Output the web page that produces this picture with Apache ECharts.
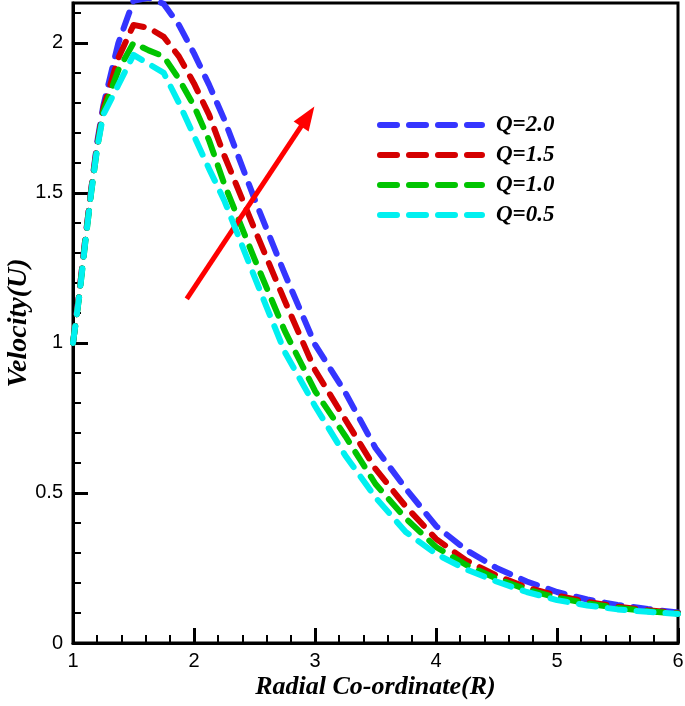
<!DOCTYPE html>
<html>
<head>
<meta charset="utf-8">
<script src="https://cdn.jsdelivr.net/npm/echarts@6/dist/echarts.min.js"></script>
<style>
html,body{margin:0;padding:0;background:#fff;}
#chart{width:685px;height:706px;}
</style>
</head>
<body>
<div id="chart"></div>
<script>
// Radial co-ordinate R
const radialR = [1.0, 1.05, 1.1, 1.15, 1.2, 1.25, 1.375, 1.5, 1.625, 1.75, 1.875, 2.0, 2.125, 2.25, 2.5, 2.75, 3.0, 3.25, 3.5, 3.75, 4.0, 4.25, 4.5, 4.75, 5.0, 5.25, 5.5, 5.75, 6.0];
// Velocity U for each Q
const velQ20 = [1.0, 1.16, 1.34, 1.51, 1.67, 1.79, 2.0, 2.14, 2.15, 2.13, 2.06, 1.965, 1.86, 1.745, 1.48, 1.23, 0.995, 0.835, 0.65, 0.515, 0.39, 0.31, 0.25, 0.205, 0.17, 0.145, 0.127, 0.113, 0.102];
const velQ15 = [1.0, 1.16, 1.34, 1.51, 1.66, 1.78, 1.95, 2.06, 2.05, 2.02, 1.955, 1.865, 1.76, 1.625, 1.38, 1.14, 0.91, 0.745, 0.58, 0.455, 0.347, 0.275, 0.225, 0.185, 0.158, 0.137, 0.121, 0.109, 0.1];
const velQ10 = [1.0, 1.15, 1.33, 1.5, 1.65, 1.77, 1.91, 2.0, 1.975, 1.955, 1.88, 1.79, 1.675, 1.53, 1.28, 1.04, 0.84, 0.69, 0.53, 0.415, 0.32, 0.26, 0.215, 0.178, 0.151, 0.132, 0.117, 0.106, 0.098];
const velQ05 = [1.0, 1.15, 1.33, 1.5, 1.65, 1.76, 1.86, 1.96, 1.93, 1.90, 1.80, 1.69, 1.58, 1.475, 1.22, 0.97, 0.79, 0.625, 0.485, 0.37, 0.297, 0.245, 0.205, 0.17, 0.143, 0.125, 0.112, 0.104, 0.097];
const seriesNames = ['Q=2.0', 'Q=1.5', 'Q=1.0', 'Q=0.5'];
const seriesColors = ['#3535ff', '#d40000', '#00c400', '#00f0f0'];
// Annotation arrow: tail and arrow-head centre
const arrowStart = [1.94, 1.147];
const arrowEnd = [2.94, 1.755];
const xName = 'Radial Co-ordinate(R)';
const yName = 'Velocity(U)';

const allVel = [velQ20, velQ15, velQ10, velQ05];
const chart = echarts.init(document.getElementById('chart'), null, {renderer: 'canvas'});

const tickFont = {fontFamily: 'Liberation Sans, Arial, sans-serif', fontSize: 20, color: '#000'};
const nameFont = {fontFamily: 'Liberation Serif, Times New Roman, serif', fontWeight: 'bold', fontStyle: 'italic', color: '#000'};

const lineSeries = allVel.map((v, i) => ({
  name: seriesNames[i],
  type: 'line',
  xAxisIndex: 0,
  yAxisIndex: 0,
  data: radialR.map((r, k) => [r, v[k]]),
  showSymbol: false,
  symbol: 'none',
  smooth: false,
  animation: false,
  z: 2 + i,
  lineStyle: {color: seriesColors[i], width: 6, type: [17, 12], cap: 'round', join: 'round'},
  itemStyle: {color: seriesColors[i]}
}));

lineSeries.push({
  name: 'arrow',
  type: 'line',
  data: [],
  z: 20,
  animation: false,
  markLine: {
    silent: true,
    animation: false,
    symbol: ['none', 'triangle'],
    symbolSize: [18, 24],
    label: {show: false},
    lineStyle: {color: '#ff0000', width: 5, type: 'solid'},
    data: [[{coord: arrowStart}, {coord: arrowEnd}]]
  }
});

const option = {
  animation: false,
  backgroundColor: '#fff',
  grid: {left: 73, top: 3, right: 7, bottom: 63, show: true, borderColor: '#000', borderWidth: 3, containLabel: false, outerBoundsMode: 'none'},
  legend: {
    data: seriesNames,
    orient: 'vertical',
    left: 377,
    top: 110,
    padding: 0,
    itemWidth: 102,
    itemHeight: 14,
    itemGap: 0,
    itemStyle: {opacity: 0, borderWidth: 0},
    lineStyle: {width: 6, type: [17, 12], cap: 'round'},
    textStyle: Object.assign({}, nameFont, {fontSize: 23, lineHeight: 30, padding: [0, 0, 0, 9]})
  },
  xAxis: [{
    type: 'value', min: 1, max: 6, interval: 1,
    name: xName, nameLocation: 'middle', nameGap: 31, nameMoveOverlap: false,
    nameTextStyle: Object.assign({}, nameFont, {fontSize: 26}),
    axisLine: {show: true, onZero: false, lineStyle: {color: '#000', width: 3}},
    axisTick: {show: true, inside: true, length: 15, lineStyle: {color: '#000', width: 3}},
    minorTick: {show: true, splitNumber: 5, length: 8, lineStyle: {color: '#000', width: 2}},
    axisLabel: Object.assign({margin: 8}, tickFont),
    splitLine: {show: false}
  }],
  yAxis: [{
    type: 'value', min: 0, max: 2.133, interval: 0.5,
    name: yName, nameLocation: 'middle', nameGap: 40, nameMoveOverlap: false,
    nameTextStyle: Object.assign({}, nameFont, {fontSize: 28}),
    axisLine: {show: true, onZero: false, lineStyle: {color: '#000', width: 3}},
    axisTick: {show: true, inside: true, length: 15, lineStyle: {color: '#000', width: 3}},
    axisLabel: Object.assign({margin: 10, showMaxLabel: false}, tickFont),
    splitLine: {show: false}
  }, {
    type: 'value', min: 0, max: 2.133, interval: 0.1, position: 'left',
    axisLine: {show: false},
    axisTick: {show: true, inside: true, length: 8, lineStyle: {color: '#000', width: 2}},
    axisLabel: {show: false},
    splitLine: {show: false}
  }],
  series: lineSeries
};
chart.setOption(option);
</script>
</body>
</html>
